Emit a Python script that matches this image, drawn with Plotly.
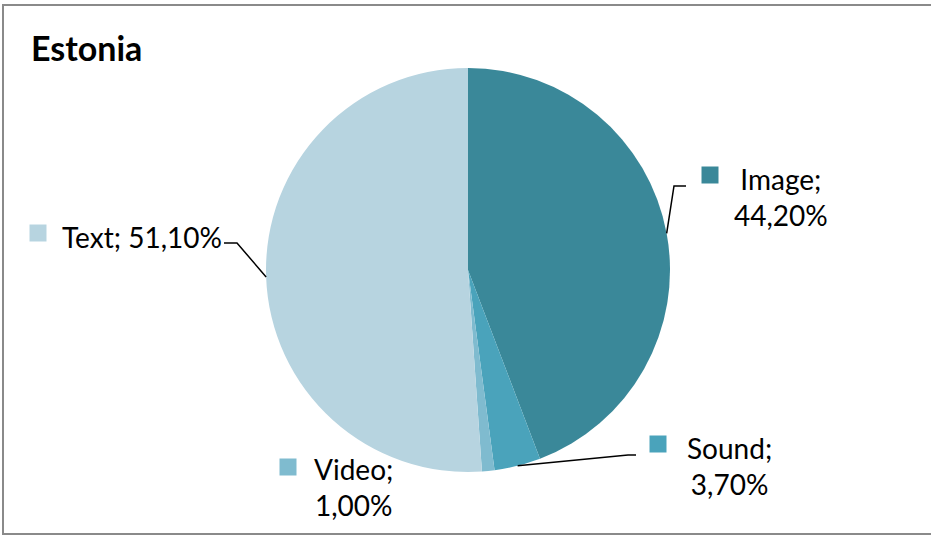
import math
import plotly.graph_objects as go

W, H = 931, 536

# ---- data ----
categories = ["Image", "Sound", "Video", "Text"]
shares = [44.2, 3.7, 1.0, 51.1]
value_labels = ["44,20%", "3,70%", "1,00%", "51,10%"]
colors = ["#3A8899", "#4AA3BB", "#7FBBCF", "#B7D4E0"]
title_text = "Estonia"

# ---- layout constants (pixels) ----
CX, CY, R = 468, 270, 202
FONT = "Lato"
FS = 28


def px(x):
    return x / W


def py(y):
    return 1 - y / H


fig = go.Figure()
fig.add_trace(go.Pie(
    labels=categories, values=shares, sort=False, direction="clockwise",
    rotation=0, marker=dict(colors=colors, line=dict(width=0)),
    textinfo="none", hoverinfo="label+percent", showlegend=False,
    domain=dict(x=[px(CX - R), px(CX + R)], y=[py(CY + R), py(CY - R)]),
))

label_layout = {
    "Image": dict(tx=781, ty=197, sq=(710, 175), two=True, elbow=(674, 186), end=(686, 186), line=True),
    "Sound": dict(tx=729, ty=466, sq=(658, 444), two=True, elbow=(628, 455), end=(636, 455), line=True),
    "Video": dict(tx=353, ty=487, sq=(288, 467), two=True, elbow=None, end=None, line=False),
    "Text": dict(tx=142, ty=237, sq=(38, 233), two=False, elbow=(237, 243), end=(224, 243), line=True),
}

shapes = []
annotations = []
total = sum(shares)
cum = 0.0
for cat, val, vl, col in zip(categories, shares, value_labels, colors):
    mid = (cum + val / 2) / total * 2 * math.pi
    cum += val
    L = label_layout[cat]
    sx = CX + R * math.sin(mid)
    sy = CY - R * math.cos(mid)
    if L["line"]:
        ex, ey = L["elbow"]
        fx, fy = L["end"]
        shapes.append(dict(
            type="path", xref="paper", yref="paper",
            path=f"M {px(sx)},{py(sy)} L {px(ex)},{py(ey)} L {px(fx)},{py(fy)}",
            line=dict(color="black", width=1.5),
        ))
    qx, qy = L["sq"]
    shapes.append(dict(type="rect", xref="paper", yref="paper",
                       x0=px(qx - 8.5), x1=px(qx + 8.5), y0=py(qy + 8.5), y1=py(qy - 8.5),
                       fillcolor=col, line=dict(width=0)))
    txt = f"{cat};<br>{vl}" if L["two"] else f"{cat}; {vl}"
    annotations.append(dict(
        text=txt, x=px(L["tx"]), y=py(L["ty"]), xref="paper", yref="paper",
        xanchor="center", yanchor="middle", showarrow=False, align="center",
        font=dict(family=FONT, size=FS, color="black"),
    ))

# chart border
shapes.append(dict(type="rect", xref="paper", yref="paper",
                   x0=px(3), x1=px(W + 5), y0=py(534), y1=py(5),
                   line=dict(color="#8A8A8A", width=2), fillcolor="rgba(0,0,0,0)"))

annotations.append(dict(
    text=f"<b>{title_text}</b>", x=px(29), y=py(47), xref="paper", yref="paper",
    xanchor="left", yanchor="middle", showarrow=False,
    font=dict(family=FONT, size=34, color="black"),
))

fig.update_layout(
    width=W, height=H, margin=dict(l=0, r=0, t=0, b=0),
    paper_bgcolor="white", plot_bgcolor="white",
    shapes=shapes, annotations=annotations,
)

fig.write_html("out.html", config={"displayModeBar": False},
               post_script="document.body.style.margin='0';document.body.style.overflow='hidden';")
